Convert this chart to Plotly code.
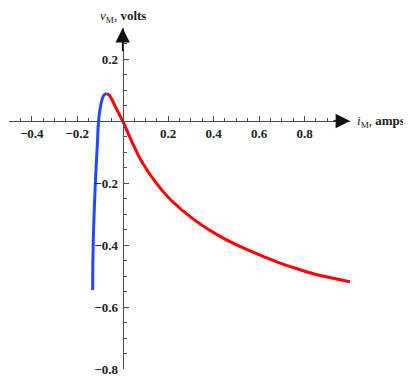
import plotly.graph_objects as go

# current (amps) and voltage (volts)
blue_i = [-0.132, -0.131, -0.128, -0.123, -0.117, -0.111, -0.106, -0.099, -0.091, -0.082, -0.070]
blue_v = [-0.545, -0.45, -0.35, -0.25, -0.15, -0.07, 0.0, 0.04, 0.068, 0.084, 0.089]

red_i = [-0.070, -0.058, -0.045, -0.030, -0.015, 0.0, 0.044, 0.080, 0.146, 0.212,
         0.315, 0.430, 0.550, 0.695, 0.760, 0.850, 0.930, 1.0]
red_v = [0.089, 0.082, 0.066, 0.043, 0.021, 0.0, -0.072, -0.126, -0.199, -0.255,
         -0.319, -0.373, -0.416, -0.459, -0.475, -0.495, -0.508, -0.519]

x_ticks = [-0.4, -0.2, 0.2, 0.4, 0.6, 0.8]
y_ticks = [-0.8, -0.6, -0.4, -0.2, 0.2]

x_range = [-0.5, 1.0]
y_range = [-0.8, 0.3]

axis_col = "#4d4d4d"
tick_font = dict(family="Liberation Serif", size=13, color="#222222", weight="bold")

fig = go.Figure()
fig.add_trace(go.Scatter(x=blue_i, y=blue_v, mode="lines", line=dict(color="rgb(30,75,255)", width=3, shape="spline"),
                         cliponaxis=False))
fig.add_trace(go.Scatter(x=red_i, y=red_v, mode="lines", line=dict(color="rgb(255,0,0)", width=3, shape="spline"),
                         cliponaxis=False))

# axes crossing at the origin
fig.update_xaxes(range=x_range, anchor="free", automargin=False,
                 position=(0 - y_range[0]) / (y_range[1] - y_range[0]),
                 showgrid=False, zeroline=False, showline=True, linecolor=axis_col, linewidth=1.3,
                 tickmode="array", tickvals=x_ticks, ticks="inside", ticklen=5, tickcolor=axis_col,
                 tickfont=tick_font,
                 minor=dict(dtick=0.05, tick0=0, ticks="inside", ticklen=3, tickcolor=axis_col))
fig.update_yaxes(range=y_range, anchor="free", automargin=False,
                 position=(0 - x_range[0]) / (x_range[1] - x_range[0]),
                 showgrid=False, zeroline=False, showline=True, linecolor=axis_col, linewidth=1.3,
                 tickmode="array", tickvals=y_ticks, ticks="inside", ticklen=5, tickcolor=axis_col,
                 tickfont=tick_font, ticklabelstandoff=2,
                 minor=dict(dtick=0.05, tick0=0, ticks="inside", ticklen=3, tickcolor=axis_col))

# arrow heads
fig.add_annotation(x=x_range[1], y=0, ax=x_range[1] - 0.08, ay=0, xref="x", yref="y", axref="x", ayref="y",
                   showarrow=True, arrowhead=2, arrowsize=1.8, arrowwidth=1.6, arrowcolor="#111111", text="")
fig.add_annotation(x=0, y=y_range[1], ax=0, ay=y_range[1] - 0.08, xref="x", yref="y", axref="x", ayref="y",
                   showarrow=True, arrowhead=2, arrowsize=1.8, arrowwidth=1.6, arrowcolor="#111111", text="")

# axis labels
fig.add_annotation(x=x_range[1], y=0, xref="x", yref="y", xanchor="left", yanchor="middle", xshift=5,
                   text="<i>i</i><sub>M</sub>, <b>amps</b>", showarrow=False,
                   font=dict(family="Liberation Serif", size=13, color="#222222"))
fig.add_annotation(x=0, y=y_range[1], xref="x", yref="y", xanchor="center", yanchor="bottom", yshift=1,
                   text="<i>v</i><sub>M</sub>, <b>volts</b>", showarrow=False,
                   font=dict(family="Liberation Serif", size=13, color="#222222"))

# page body adds 8px around the figure, so the figure is 8px smaller
fig.update_layout(width=403, height=374, margin=dict(l=1, r=61, t=20, b=13),
                  plot_bgcolor="white", paper_bgcolor="white", showlegend=False)

fig.write_html("out.html")
